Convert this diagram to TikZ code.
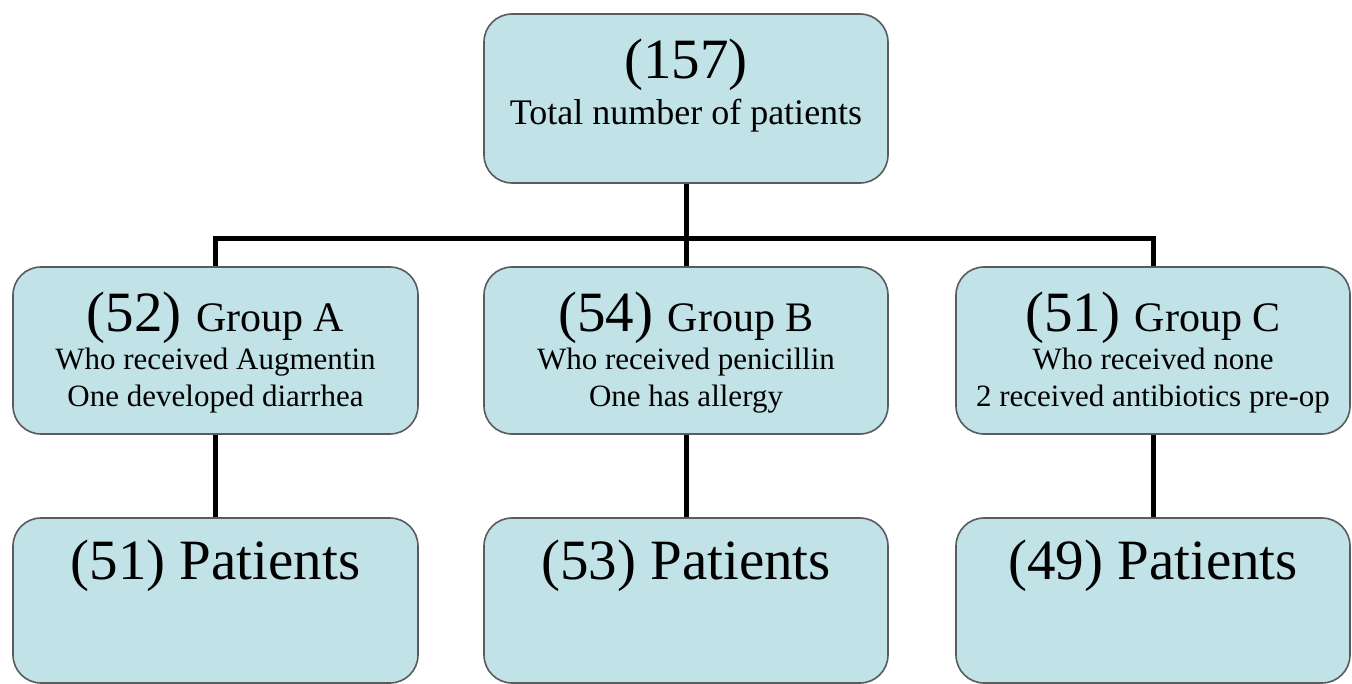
\documentclass[tikz,border=0pt]{standalone}
\usepackage{fontspec}
\setmainfont{Liberation Serif}
\usetikzlibrary{positioning}
\definecolor{boxfill}{RGB}{193,226,230}
\definecolor{boxline}{RGB}{88,92,94}
\newcommand{\szNum}{\fontsize{57}{60}\selectfont}
\newcommand{\szHead}{\fontsize{42}{46}\selectfont}
\newcommand{\szTot}{\fontsize{36}{40}\selectfont}
\newcommand{\szLine}{\fontsize{31}{34}\selectfont}
\begin{document}
\begin{tikzpicture}[x=1pt,y=-1pt,
    box/.style={draw=boxline, line width=1.6pt, fill=boxfill, rounded corners=28pt, inner sep=0pt},
    txt/.style={anchor=base, inner sep=0pt},
    link/.style={line width=5pt}]
  \useasboundingbox (0,0) rectangle (1352,684);
  % Boxes
  \node[box, minimum width=404pt, minimum height=169pt] (total) at (686,98.5) {};
  \foreach \g/\x/\w in {A/215.5/405, B/686/404, C/1153/394} {
    \node[box, minimum width=\w pt, minimum height=167pt] (grp\g) at (\x,350.5) {};
    \node[box, minimum width=\w pt, minimum height=165pt] (pat\g) at (\x,600.5) {};
  }
  % Connectors
  \coordinate (split) at (686,239);
  \draw[link] (total.south) -- (split);
  \draw[link] (grpA.north) |- (split) -| (grpC.north);
  \draw[link] (split) -- (grpB.north);
  \foreach \g in {A,B,C}
    \draw[link] (grp\g.south) -- (pat\g.north);
  % Texts
  \node[txt] (totalN) at ([yshift=-65pt]total.north) {\szNum (157)};
  \node[txt] (totalT) at ([yshift=-111pt]total.north) {\szTot Total number of patients};
  \node[txt] (grpAN) at ([yshift=-65pt]grpA.north) {\szNum (52) \szHead Group A};
  \node[txt] (grpAT) at ([yshift=-103pt]grpA.north) {\szLine Who received Augmentin};
  \node[txt] (grpAS) at ([yshift=-140pt]grpA.north) {\szLine One developed diarrhea};
  \node[txt] (grpBN) at ([yshift=-65pt]grpB.north) {\szNum (54) \szHead Group B};
  \node[txt] (grpBT) at ([yshift=-103pt]grpB.north) {\szLine Who received penicillin};
  \node[txt] (grpBS) at ([yshift=-140pt]grpB.north) {\szLine One has allergy};
  \node[txt] (grpCN) at ([yshift=-65pt]grpC.north) {\szNum (51) \szHead Group C};
  \node[txt] (grpCT) at ([yshift=-103pt]grpC.north) {\szLine Who received none};
  \node[txt] (grpCS) at ([yshift=-140pt]grpC.north) {\szLine 2 received antibiotics pre-op};
  \foreach \g/\n in {A/51, B/53, C/49}
    \node[txt] (pat\g T) at ([yshift=-62pt]pat\g.north) {\szNum (\n) Patients};
\end{tikzpicture}
\end{document}
